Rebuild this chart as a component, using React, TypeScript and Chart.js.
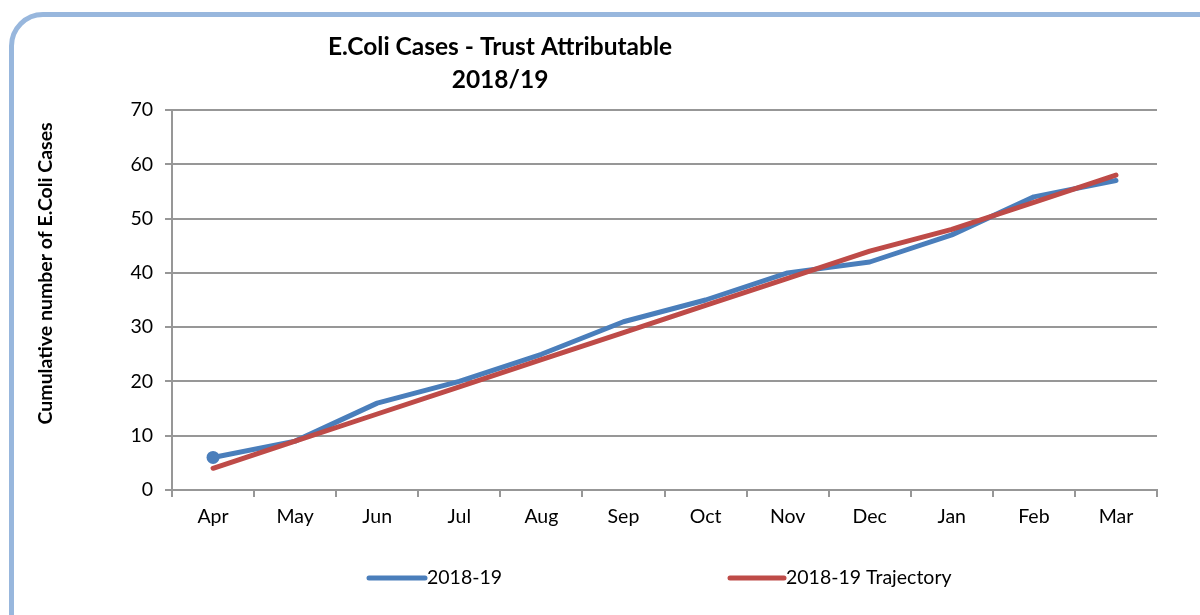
import React, { useEffect, useRef } from "react";
import { Chart, registerables } from "chart.js";

Chart.register(...registerables);

const months = ["Apr", "May", "Jun", "Jul", "Aug", "Sep", "Oct", "Nov", "Dec", "Jan", "Feb", "Mar"];
const actualCases = [6, 9, 16, 20, 25, 31, 35, 40, 42, 47, 54, 57];
const trajectoryCases = [4, 9, 14, 19, 24, 29, 34, 39, 44, 48, 53, 58];
const seriesNames = ["2018-19", "2018-19 Trajectory"];
const seriesColors = ["#4a7ebb", "#be4b48"];
const titleLines = ["E.Coli Cases - Trust Attributable", "2018/19"];
const yAxisTitle = "Cumulative number of E.Coli Cases";
const yMin = 0;
const yMax = 70;
const yStep = 10;

const FONT = "Lato, 'Open Sans', sans-serif";
const GRID = "#979797";

const overlayPlugin = {
  id: "overlay",
  afterDraw(chart: any) {
    const ctx = chart.ctx as CanvasRenderingContext2D;
    const area = chart.chartArea;
    ctx.save();
    ctx.fillStyle = "#000";
    ctx.textAlign = "center";
    ctx.textBaseline = "middle";
    ctx.font = `bold 24.5px ${FONT}`;
    const tx = area.left + (area.right - area.left) * 0.333;
    ctx.fillText(titleLines[0], tx, 47);
    ctx.fillText(titleLines[1], tx, 80);

    ctx.save();
    ctx.translate(46, area.top + (area.bottom - area.top) * 0.43);
    ctx.rotate(-Math.PI / 2);
    ctx.font = `bold 19.5px ${FONT}`;
    ctx.fillText(yAxisTitle, 0, 0);
    ctx.restore();

    // legend
    const items = [
      { x0: 369, x1: 425 },
      { x0: 730, x1: 784 },
    ];
    const ly = 578;
    ctx.font = `19.5px ${FONT}`;
    ctx.textAlign = "left";
    chart.data.datasets.forEach((ds: any, i: number) => {
      const it = items[i];
      ctx.strokeStyle = ds.borderColor;
      ctx.lineWidth = 5;
      ctx.lineCap = "round";
      ctx.beginPath();
      ctx.moveTo(it.x0, ly);
      ctx.lineTo(it.x1, ly);
      ctx.stroke();
      ctx.fillStyle = "#000";
      ctx.fillText(ds.label, it.x1 + 2, ly);
    });
    ctx.restore();
  },
};

export default function App() {
  const ref = useRef<HTMLCanvasElement | null>(null);

  useEffect(() => {
    if (!ref.current) return;
    const chart = new Chart(ref.current, {
      type: "line",
      data: {
        labels: months,
        datasets: [
          {
            label: seriesNames[0],
            data: actualCases,
            borderColor: seriesColors[0],
            backgroundColor: seriesColors[0],
            borderWidth: 5,
            pointRadius: actualCases.map((_, i) => (i === 0 ? 6.5 : 0)),
            pointBackgroundColor: seriesColors[0],
            pointBorderColor: seriesColors[0],
            pointBorderWidth: 0,
            borderCapStyle: "round",
            borderJoinStyle: "round",
            tension: 0,
            order: 1,
          },
          {
            label: seriesNames[1],
            data: trajectoryCases,
            borderColor: seriesColors[1],
            backgroundColor: seriesColors[1],
            borderWidth: 5,
            pointRadius: 0,
            borderCapStyle: "round",
            borderJoinStyle: "round",
            tension: 0,
            order: 0,
          },
        ],
      },
      options: {
        responsive: false,
        animation: false,
        devicePixelRatio: 1,
        layout: { padding: { top: 110, right: 43, left: 0, bottom: 0 } },
        plugins: {
          legend: { display: false },
          title: { display: false },
          tooltip: { enabled: false },
        },
        scales: {
          x: {
            type: "category",
            offset: true,
            afterFit: (s: any) => {
              s.height = 125;
            },
            grid: {
              offset: true,
              drawOnChartArea: false,
              drawTicks: true,
              tickLength: 7,
              color: GRID,
              lineWidth: 2,
            },
            border: { display: true, color: GRID, width: 2 },
            ticks: {
              color: "#000",
              font: { family: FONT, size: 19.5 },
              padding: 8,
              maxRotation: 0,
              autoSkip: false,
            },
          },
          y: {
            min: yMin,
            max: yMax,
            afterFit: (s: any) => {
              s.width = 172;
            },
            grid: {
              color: GRID,
              lineWidth: 2,
              tickLength: 7,
              drawTicks: true,
            },
            border: { display: true, color: GRID, width: 2 },
            ticks: {
              stepSize: yStep,
              color: "#000",
              font: { family: FONT, size: 19.5 },
              padding: 12,
            },
          },
        },
      },
      plugins: [overlayPlugin],
    } as any);
    return () => chart.destroy();
  }, []);

  return (
    <div
      style={{
        position: "fixed",
        left: 0,
        top: 0,
        width: 1200,
        height: 615,
        overflow: "hidden",
        background: "#fff",
      }}
    >
      <div
        style={{
          position: "absolute",
          left: 9,
          top: 12,
          width: 1230,
          height: 640,
          border: "5px solid #98b7dd",
          borderRadius: 34,
          boxSizing: "border-box",
        }}
      />
      <canvas
        ref={ref}
        width={1200}
        height={615}
        style={{ position: "absolute", left: 0, top: 0, display: "block" }}
      />
    </div>
  );
}
